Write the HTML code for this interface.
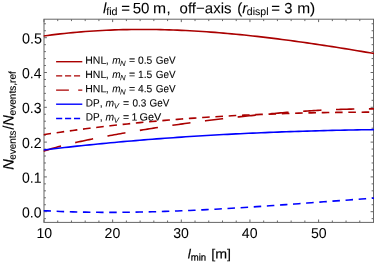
<!DOCTYPE html>
<html><head><meta charset="utf-8"><style>
html,body{margin:0;padding:0;background:#fff;}
body{width:374px;height:262px;position:relative;overflow:hidden;font-family:"Liberation Sans",sans-serif;color:#000;}
.t{position:absolute;white-space:nowrap;line-height:1;}
#w{position:absolute;left:0;top:0;width:374px;height:262px;will-change:transform;}
</style></head><body>
<svg width="374" height="262" viewBox="0 0 374 262" style="position:absolute;left:0;top:0">
<defs><clipPath id="c"><rect x="43.4" y="19.2" width="330.7" height="203.20000000000002"/></clipPath></defs>
<rect x="44.0" y="19.2" width="329.5" height="203.20000000000002" fill="none" stroke="#666666" stroke-width="1"/>
<path d="M44.00,222.4 v-2.9 M44.00,19.2 v2.9 M57.73,222.4 v-1.9 M57.73,19.2 v1.9 M71.46,222.4 v-1.9 M71.46,19.2 v1.9 M85.19,222.4 v-1.9 M85.19,19.2 v1.9 M98.92,222.4 v-1.9 M98.92,19.2 v1.9 M112.65,222.4 v-2.9 M112.65,19.2 v2.9 M126.38,222.4 v-1.9 M126.38,19.2 v1.9 M140.11,222.4 v-1.9 M140.11,19.2 v1.9 M153.84,222.4 v-1.9 M153.84,19.2 v1.9 M167.57,222.4 v-1.9 M167.57,19.2 v1.9 M181.30,222.4 v-2.9 M181.30,19.2 v2.9 M195.03,222.4 v-1.9 M195.03,19.2 v1.9 M208.76,222.4 v-1.9 M208.76,19.2 v1.9 M222.49,222.4 v-1.9 M222.49,19.2 v1.9 M236.22,222.4 v-1.9 M236.22,19.2 v1.9 M249.95,222.4 v-2.9 M249.95,19.2 v2.9 M263.68,222.4 v-1.9 M263.68,19.2 v1.9 M277.41,222.4 v-1.9 M277.41,19.2 v1.9 M291.14,222.4 v-1.9 M291.14,19.2 v1.9 M304.87,222.4 v-1.9 M304.87,19.2 v1.9 M318.60,222.4 v-2.9 M318.60,19.2 v2.9 M332.33,222.4 v-1.9 M332.33,19.2 v1.9 M346.06,222.4 v-1.9 M346.06,19.2 v1.9 M359.79,222.4 v-1.9 M359.79,19.2 v1.9 M373.52,222.4 v-1.9 M373.52,19.2 v1.9 M44.0,218.66 h1.9 M373.5,218.66 h-1.9 M44.0,211.70 h2.9 M373.5,211.70 h-2.9 M44.0,204.74 h1.9 M373.5,204.74 h-1.9 M44.0,197.78 h1.9 M373.5,197.78 h-1.9 M44.0,190.82 h1.9 M373.5,190.82 h-1.9 M44.0,183.86 h1.9 M373.5,183.86 h-1.9 M44.0,176.90 h2.9 M373.5,176.90 h-2.9 M44.0,169.94 h1.9 M373.5,169.94 h-1.9 M44.0,162.98 h1.9 M373.5,162.98 h-1.9 M44.0,156.02 h1.9 M373.5,156.02 h-1.9 M44.0,149.06 h1.9 M373.5,149.06 h-1.9 M44.0,142.10 h2.9 M373.5,142.10 h-2.9 M44.0,135.14 h1.9 M373.5,135.14 h-1.9 M44.0,128.18 h1.9 M373.5,128.18 h-1.9 M44.0,121.22 h1.9 M373.5,121.22 h-1.9 M44.0,114.26 h1.9 M373.5,114.26 h-1.9 M44.0,107.30 h2.9 M373.5,107.30 h-2.9 M44.0,100.34 h1.9 M373.5,100.34 h-1.9 M44.0,93.38 h1.9 M373.5,93.38 h-1.9 M44.0,86.42 h1.9 M373.5,86.42 h-1.9 M44.0,79.46 h1.9 M373.5,79.46 h-1.9 M44.0,72.50 h2.9 M373.5,72.50 h-2.9 M44.0,65.54 h1.9 M373.5,65.54 h-1.9 M44.0,58.58 h1.9 M373.5,58.58 h-1.9 M44.0,51.62 h1.9 M373.5,51.62 h-1.9 M44.0,44.66 h1.9 M373.5,44.66 h-1.9 M44.0,37.70 h2.9 M373.5,37.70 h-2.9 M44.0,30.74 h1.9 M373.5,30.74 h-1.9 M44.0,23.78 h1.9 M373.5,23.78 h-1.9" stroke="#666666" stroke-width="1" fill="none"/>
<g clip-path="url(#c)" fill="none" stroke-width="1.6">
<path d="M43.50,36.03 L47.68,35.45 L51.87,34.91 L56.05,34.39 L60.23,33.91 L64.42,33.44 L68.60,33.01 L72.78,32.60 L76.97,32.22 L81.15,31.86 L85.34,31.53 L89.52,31.23 L93.70,30.95 L97.89,30.70 L102.07,30.47 L106.25,30.26 L110.44,30.08 L114.62,29.92 L118.80,29.79 L122.99,29.67 L127.17,29.58 L131.35,29.52 L135.54,29.47 L139.72,29.45 L143.91,29.45 L148.09,29.47 L152.27,29.51 L156.46,29.57 L160.64,29.65 L164.82,29.75 L169.01,29.87 L173.19,30.01 L177.37,30.17 L181.56,30.35 L185.74,30.54 L189.92,30.76 L194.11,30.99 L198.29,31.24 L202.47,31.50 L206.66,31.79 L210.84,32.09 L215.03,32.40 L219.21,32.74 L223.39,33.09 L227.58,33.45 L231.76,33.83 L235.94,34.22 L240.13,34.63 L244.31,35.05 L248.49,35.49 L252.68,35.94 L256.86,36.40 L261.04,36.88 L265.23,37.36 L269.41,37.87 L273.59,38.38 L277.78,38.90 L281.96,39.44 L286.15,39.99 L290.33,40.55 L294.51,41.11 L298.70,41.69 L302.88,42.28 L307.06,42.88 L311.25,43.49 L315.43,44.11 L319.61,44.73 L323.80,45.37 L327.98,46.01 L332.16,46.66 L336.35,47.32 L340.53,47.98 L344.72,48.65 L348.90,49.33 L353.08,50.01 L357.27,50.71 L361.45,51.40 L365.63,52.10 L369.82,52.81 L374.00,53.52" stroke="#aa0000"/>
<path d="M43.50,134.69 L47.68,134.06 L51.87,133.43 L56.05,132.81 L60.23,132.20 L64.42,131.61 L68.60,131.02 L72.78,130.45 L76.97,129.89 L81.15,129.33 L85.34,128.79 L89.52,128.26 L93.70,127.74 L97.89,127.23 L102.07,126.73 L106.25,126.24 L110.44,125.75 L114.62,125.28 L118.80,124.82 L122.99,124.37 L127.17,123.93 L131.35,123.50 L135.54,123.07 L139.72,122.66 L143.91,122.26 L148.09,121.86 L152.27,121.48 L156.46,121.10 L160.64,120.73 L164.82,120.37 L169.01,120.02 L173.19,119.68 L177.37,119.35 L181.56,119.03 L185.74,118.71 L189.92,118.41 L194.11,118.11 L198.29,117.82 L202.47,117.54 L206.66,117.26 L210.84,117.00 L215.03,116.74 L219.21,116.49 L223.39,116.25 L227.58,116.02 L231.76,115.79 L235.94,115.57 L240.13,115.36 L244.31,115.16 L248.49,114.96 L252.68,114.78 L256.86,114.59 L261.04,114.42 L265.23,114.25 L269.41,114.09 L273.59,113.94 L277.78,113.79 L281.96,113.65 L286.15,113.52 L290.33,113.40 L294.51,113.28 L298.70,113.16 L302.88,113.06 L307.06,112.95 L311.25,112.86 L315.43,112.77 L319.61,112.69 L323.80,112.61 L327.98,112.54 L332.16,112.48 L336.35,112.42 L340.53,112.37 L344.72,112.32 L348.90,112.28 L353.08,112.24 L357.27,112.21 L361.45,112.18 L365.63,112.16 L369.82,112.15 L374.00,112.13" stroke="#aa0000" stroke-dasharray="7.6 5.7"/>
<path d="M43.50,151.33 L45.58,150.60 L47.66,149.90 L49.74,149.24 L51.81,148.60 L53.89,147.99 L55.97,147.40 L58.05,146.83 L60.13,146.27 L62.21,145.73 L64.29,145.21 L66.36,144.70 L68.44,144.19 L70.52,143.70 L72.60,143.22 L74.68,142.74 L76.76,142.28 L78.84,141.82 L80.92,141.36 L82.99,140.92 L85.07,140.48 L87.15,140.04 L89.23,139.61 L91.31,139.19 L93.39,138.77 L95.47,138.35 L97.54,137.94 L99.62,137.54 L101.70,137.13 L103.78,136.73 L105.86,136.34 L107.94,135.95 L110.02,135.56 L112.09,135.18 L114.17,134.79 L116.25,134.42 L118.33,134.04 L120.41,133.67 L122.49,133.30 L124.57,132.94 L126.64,132.58 L128.72,132.22 L130.80,131.86 L132.88,131.51 L134.96,131.16 L137.04,130.81 L139.12,130.47 L141.19,130.12 L143.27,129.79 L145.35,129.45 L147.43,129.12 L149.51,128.79 L151.59,128.46 L153.67,128.13 L155.75,127.81 L157.82,127.49 L159.90,127.17 L161.98,126.85 L164.06,126.54 L166.14,126.23 L168.22,125.92 L170.30,125.62 L172.37,125.32 L174.45,125.01 L176.53,124.72 L178.61,124.42 L180.69,124.13 L182.77,123.84 L184.85,123.55 L186.92,123.26 L189.00,122.98 L191.08,122.70 L193.16,122.42 L195.24,122.14 L197.32,121.87 L199.40,121.60 L201.47,121.33 L203.55,121.06 L205.63,120.79 L207.71,120.53 L209.79,120.27 L211.87,120.01 L213.95,119.76 L216.03,119.51 L218.10,119.26 L220.18,119.01 L222.26,118.76 L224.34,118.52 L226.42,118.28 L228.50,118.04 L230.58,117.80 L232.65,117.57 L234.73,117.34 L236.81,117.11 L238.89,116.89 L240.97,116.66 L243.05,116.44 L245.13,116.22 L247.20,116.01 L249.28,115.79 L251.36,115.58 L253.44,115.37 L255.52,115.17 L257.60,114.97 L259.68,114.76 L261.75,114.57 L263.83,114.37 L265.91,114.18 L267.99,113.99 L270.07,113.80 L272.15,113.62 L274.23,113.44 L276.31,113.26 L278.38,113.09 L280.46,112.92 L282.54,112.75 L284.62,112.58 L286.70,112.42 L288.78,112.26 L290.86,112.10 L292.93,111.95 L295.01,111.80 L297.09,111.65 L299.17,111.50 L301.25,111.36 L303.33,111.23 L305.41,111.09 L307.48,110.96 L309.56,110.83 L311.64,110.71 L313.72,110.59 L315.80,110.47 L317.88,110.36 L319.96,110.25 L322.03,110.14 L324.11,110.04 L326.19,109.95 L328.27,109.85 L330.35,109.76 L332.43,109.67 L334.51,109.59 L336.58,109.51 L338.66,109.44 L340.74,109.37 L342.82,109.30 L344.90,109.24 L346.98,109.19 L349.06,109.13 L351.14,109.09 L353.21,109.04 L355.29,109.00 L357.37,108.97 L359.45,108.94 L361.53,108.91 L363.61,108.89 L365.69,108.88 L367.76,108.87 L369.84,108.86 L371.92,108.86 L374.00,108.87" stroke="#aa0000" stroke-dasharray="18.3 14.6"/>
<path d="M43.50,149.98 L47.68,149.48 L51.87,148.98 L56.05,148.50 L60.23,148.02 L64.42,147.54 L68.60,147.08 L72.78,146.62 L76.97,146.17 L81.15,145.72 L85.34,145.29 L89.52,144.86 L93.70,144.44 L97.89,144.02 L102.07,143.61 L106.25,143.21 L110.44,142.81 L114.62,142.43 L118.80,142.05 L122.99,141.67 L127.17,141.30 L131.35,140.94 L135.54,140.59 L139.72,140.24 L143.91,139.90 L148.09,139.56 L152.27,139.23 L156.46,138.91 L160.64,138.59 L164.82,138.28 L169.01,137.98 L173.19,137.68 L177.37,137.39 L181.56,137.10 L185.74,136.82 L189.92,136.55 L194.11,136.28 L198.29,136.02 L202.47,135.76 L206.66,135.51 L210.84,135.27 L215.03,135.03 L219.21,134.79 L223.39,134.57 L227.58,134.34 L231.76,134.13 L235.94,133.91 L240.13,133.71 L244.31,133.51 L248.49,133.31 L252.68,133.12 L256.86,132.93 L261.04,132.75 L265.23,132.58 L269.41,132.41 L273.59,132.24 L277.78,132.08 L281.96,131.92 L286.15,131.77 L290.33,131.63 L294.51,131.49 L298.70,131.35 L302.88,131.22 L307.06,131.09 L311.25,130.97 L315.43,130.85 L319.61,130.73 L323.80,130.62 L327.98,130.52 L332.16,130.42 L336.35,130.32 L340.53,130.23 L344.72,130.14 L348.90,130.05 L353.08,129.97 L357.27,129.90 L361.45,129.82 L365.63,129.75 L369.82,129.69 L374.00,129.63" stroke="#0000ff"/>
<path d="M43.50,210.69 L47.68,210.90 L51.87,211.10 L56.05,211.28 L60.23,211.44 L64.42,211.60 L68.60,211.73 L72.78,211.86 L76.97,211.96 L81.15,212.06 L85.34,212.14 L89.52,212.21 L93.70,212.26 L97.89,212.31 L102.07,212.34 L106.25,212.35 L110.44,212.36 L114.62,212.35 L118.80,212.33 L122.99,212.30 L127.17,212.26 L131.35,212.21 L135.54,212.15 L139.72,212.07 L143.91,211.99 L148.09,211.90 L152.27,211.79 L156.46,211.68 L160.64,211.56 L164.82,211.42 L169.01,211.28 L173.19,211.13 L177.37,210.97 L181.56,210.81 L185.74,210.63 L189.92,210.45 L194.11,210.26 L198.29,210.06 L202.47,209.86 L206.66,209.64 L210.84,209.43 L215.03,209.20 L219.21,208.97 L223.39,208.73 L227.58,208.49 L231.76,208.24 L235.94,207.98 L240.13,207.73 L244.31,207.46 L248.49,207.19 L252.68,206.92 L256.86,206.64 L261.04,206.36 L265.23,206.07 L269.41,205.79 L273.59,205.49 L277.78,205.20 L281.96,204.90 L286.15,204.60 L290.33,204.30 L294.51,203.99 L298.70,203.68 L302.88,203.38 L307.06,203.07 L311.25,202.75 L315.43,202.44 L319.61,202.13 L323.80,201.81 L327.98,201.50 L332.16,201.18 L336.35,200.87 L340.53,200.56 L344.72,200.24 L348.90,199.93 L353.08,199.62 L357.27,199.31 L361.45,199.00 L365.63,198.69 L369.82,198.39 L374.00,198.08" stroke="#0000ff" stroke-dasharray="7.5 5.65"/>
</g>
<g fill="none" stroke-width="1.4">
<path d="M56.1,61.7 H82.3" stroke="#aa0000"/>
<path d="M56.1,75.9 H82.3" stroke="#aa0000" stroke-dasharray="6.1 2.85"/>
<path d="M56.1,90.1 H82.3" stroke="#aa0000" stroke-dasharray="12.8 9.3"/>
<path d="M56.1,104.2 H82.3" stroke="#0000ff"/>
<path d="M56.1,118.5 H82.3" stroke="#0000ff" stroke-dasharray="6.1 2.85"/>
</g>
</svg>
<div id="w">
<svg width="374" height="262" style="position:absolute;left:0;top:0" font-family="Liberation Sans, sans-serif" fill="#000" stroke="#000" stroke-width="0.06">
<text transform="translate(103.06,13.20) scale(1.0000,1.0) rotate(0.05)" font-size="15" font-style="italic">l</text>
<text transform="translate(106.15,15.00) scale(1.0133,1.0) rotate(0.05)" font-size="10.6">fid</text>
<text transform="translate(121.17,13.20) scale(1.0000,1.0) rotate(0.05)" font-size="15">=</text>
<text transform="translate(132.70,13.20) scale(1.0066,1.0) rotate(0.05)" font-size="15">50</text>
<text transform="translate(152.96,13.20) scale(1.0466,1.0) rotate(0.05)" font-size="15">m</text>
<text transform="translate(166.55,13.20) scale(1.0000,1.0) rotate(0.05)" font-size="15">,</text>
<text transform="translate(179.62,13.20) scale(1.0002,1.0) rotate(0.05)" font-size="15">off−axis</text>
<text transform="translate(237.27,13.20) scale(1.0000,1.0) rotate(0.05)" font-size="15">(</text>
<text transform="translate(242.15,13.20) scale(1.0000,1.0) rotate(0.05)" font-size="15" font-style="italic">r</text>
<text transform="translate(246.81,15.00) scale(0.9953,1.0) rotate(0.05)" font-size="10.6">displ</text>
<text transform="translate(271.17,13.20) scale(1.0000,1.0) rotate(0.05)" font-size="15">=</text>
<text transform="translate(284.24,13.20) scale(0.9843,1.0) rotate(0.05)" font-size="15">3</text>
<text transform="translate(297.17,13.20) scale(1.0344,1.0) rotate(0.05)" font-size="15">m)</text>
</svg>
<svg width="374" height="262" style="position:absolute;left:0;top:0" font-family="Liberation Sans, sans-serif" font-size="15" fill="#000" stroke="#000" stroke-width="0.04">
<text transform="translate(41.55,217.50) scale(0.935,0.98) rotate(0.05)" text-anchor="end">0.0</text>
<text transform="translate(41.55,182.70) scale(0.935,0.98) rotate(0.05)" text-anchor="end">0.1</text>
<text transform="translate(41.55,147.90) scale(0.935,0.98) rotate(0.05)" text-anchor="end">0.2</text>
<text transform="translate(41.55,113.10) scale(0.935,0.98) rotate(0.05)" text-anchor="end">0.3</text>
<text transform="translate(41.55,78.30) scale(0.935,0.98) rotate(0.05)" text-anchor="end">0.4</text>
<text transform="translate(42.0,43.50) scale(0.96,0.98) rotate(0.05)" text-anchor="end">0.5</text>
<text transform="translate(44.35,237.95) scale(0.94,0.955) rotate(0.05)" text-anchor="middle">10</text>
<text transform="translate(112.45,237.95) scale(0.94,0.955) rotate(0.05)" text-anchor="middle">20</text>
<text transform="translate(181.11,237.95) scale(0.94,0.955) rotate(0.05)" text-anchor="middle">30</text>
<text transform="translate(249.70,237.95) scale(0.94,0.955) rotate(0.05)" text-anchor="middle">40</text>
<text transform="translate(318.75,237.95) scale(0.94,0.955) rotate(0.05)" text-anchor="middle">50</text>
</svg>
<svg width="374" height="262" style="position:absolute;left:0;top:0" font-family="Liberation Sans, sans-serif" fill="#000" stroke="#000" stroke-width="0.08">
<text transform="translate(85.29,63.80) scale(0.9977,1.0) rotate(0.05)" font-size="10.5">HNL</text>
<text transform="translate(105.81,63.80) scale(1.0000,1.0) rotate(0.05)" font-size="10.5">,</text>
<text transform="translate(112.33,63.80) scale(0.9524,1.0) rotate(0.05)" font-size="10.5" font-style="italic">m</text>
<text transform="translate(120.01,66.10) scale(1.0000,1.0) rotate(0.05)" font-size="7.8" font-style="italic" stroke-width="0.03">N</text>
<text transform="translate(128.89,63.80) scale(1.0000,1.0) rotate(0.05)" font-size="10.5">=</text>
<text transform="translate(138.05,63.80) scale(0.9785,1) rotate(0.05)" font-size="10.5">0.5</text>
<text transform="translate(155.75,63.80) scale(0.9444,1.0) rotate(0.05)" font-size="10.5">GeV</text>
<text transform="translate(85.29,78.00) scale(0.9977,1.0) rotate(0.05)" font-size="10.5">HNL</text>
<text transform="translate(105.81,78.00) scale(1.0000,1.0) rotate(0.05)" font-size="10.5">,</text>
<text transform="translate(112.33,78.00) scale(0.9524,1.0) rotate(0.05)" font-size="10.5" font-style="italic">m</text>
<text transform="translate(120.01,80.30) scale(1.0000,1.0) rotate(0.05)" font-size="7.8" font-style="italic" stroke-width="0.03">N</text>
<text transform="translate(128.89,78.00) scale(1.0000,1.0) rotate(0.05)" font-size="10.5">=</text>
<text transform="translate(138.05,78.00) scale(0.9785,1) rotate(0.05)" font-size="10.5">1.5</text>
<text transform="translate(155.75,78.00) scale(0.9444,1.0) rotate(0.05)" font-size="10.5">GeV</text>
<text transform="translate(85.29,92.20) scale(0.9977,1.0) rotate(0.05)" font-size="10.5">HNL</text>
<text transform="translate(105.81,92.20) scale(1.0000,1.0) rotate(0.05)" font-size="10.5">,</text>
<text transform="translate(112.33,92.20) scale(0.9524,1.0) rotate(0.05)" font-size="10.5" font-style="italic">m</text>
<text transform="translate(120.01,94.50) scale(1.0000,1.0) rotate(0.05)" font-size="7.8" font-style="italic" stroke-width="0.03">N</text>
<text transform="translate(128.89,92.20) scale(1.0000,1.0) rotate(0.05)" font-size="10.5">=</text>
<text transform="translate(138.05,92.20) scale(0.9785,1) rotate(0.05)" font-size="10.5">4.5</text>
<text transform="translate(155.75,92.20) scale(0.9444,1.0) rotate(0.05)" font-size="10.5">GeV</text>
<text transform="translate(85.68,106.40) scale(0.9528,1.0) rotate(0.05)" font-size="10.5">DP</text>
<text transform="translate(99.81,106.40) scale(1.0000,1.0) rotate(0.05)" font-size="10.5">,</text>
<text transform="translate(105.58,106.40) scale(0.9833,1.0) rotate(0.05)" font-size="10.5" font-style="italic">m</text>
<text transform="translate(113.63,108.50) scale(1.0000,1.0) rotate(0.05)" font-size="7.8" font-style="italic" stroke-width="0.03">V</text>
<text transform="translate(122.89,106.40) scale(1.0000,1.0) rotate(0.05)" font-size="10.5">=</text>
<text transform="translate(132.46,106.40) scale(0.9472,1.0) rotate(0.05)" font-size="10.5">0.3</text>
<text transform="translate(149.45,106.40) scale(0.9444,1.0) rotate(0.05)" font-size="10.5">GeV</text>
<text transform="translate(85.68,120.60) scale(0.9528,1.0) rotate(0.05)" font-size="10.5">DP</text>
<text transform="translate(99.81,120.60) scale(1.0000,1.0) rotate(0.05)" font-size="10.5">,</text>
<text transform="translate(105.58,120.60) scale(0.9833,1.0) rotate(0.05)" font-size="10.5" font-style="italic">m</text>
<text transform="translate(113.63,122.70) scale(1.0000,1.0) rotate(0.05)" font-size="7.8" font-style="italic" stroke-width="0.03">V</text>
<text transform="translate(122.89,120.60) scale(1.0000,1.0) rotate(0.05)" font-size="10.5">=</text>
<text transform="translate(131.60,120.60) scale(1.0000,1.0) rotate(0.05)" font-size="10.5">1</text>
<text transform="translate(139.60,120.60) scale(1.0325,1.0) rotate(0.05)" font-size="10.5">GeV</text>
</svg>
<svg width="374" height="262" style="position:absolute;left:0;top:0" font-family="Liberation Sans, sans-serif" fill="#000" stroke="#000" stroke-width="0.15">
<text transform="translate(187.68,258.45) scale(1.0000,1.0) rotate(0.05)" font-size="13.5" font-style="italic">l</text>
<text transform="translate(190.77,260.45) scale(0.9924,1.0) rotate(0.05)" font-size="9.6" stroke-width="0.25">min</text>
<text transform="translate(211.18,258.45) scale(1.0551,1.0) rotate(0.05)" font-size="13.5">[m]</text>
</svg>
<svg width="374" height="262" style="position:absolute;left:0;top:0" font-family="Liberation Sans, sans-serif" fill="#000" stroke="#000" stroke-width="0.15">
<text transform="translate(13.45,169.80) rotate(-89.95) scale(0.9780,1)" font-size="15" font-style="italic">N</text>
<text transform="translate(15.80,159.67) rotate(-89.95) scale(0.9869,1)" font-size="10">events</text>
<text transform="translate(13.45,129.65) rotate(-89.95) scale(0.9838,1)" font-size="15">/</text>
<text transform="translate(13.45,125.80) rotate(-89.95) scale(0.9732,1)" font-size="15" font-style="italic">N</text>
<text transform="translate(15.80,115.48) rotate(-89.95) scale(1.0115,1)" font-size="10">events,ref</text>
</svg>
</div></body></html>
